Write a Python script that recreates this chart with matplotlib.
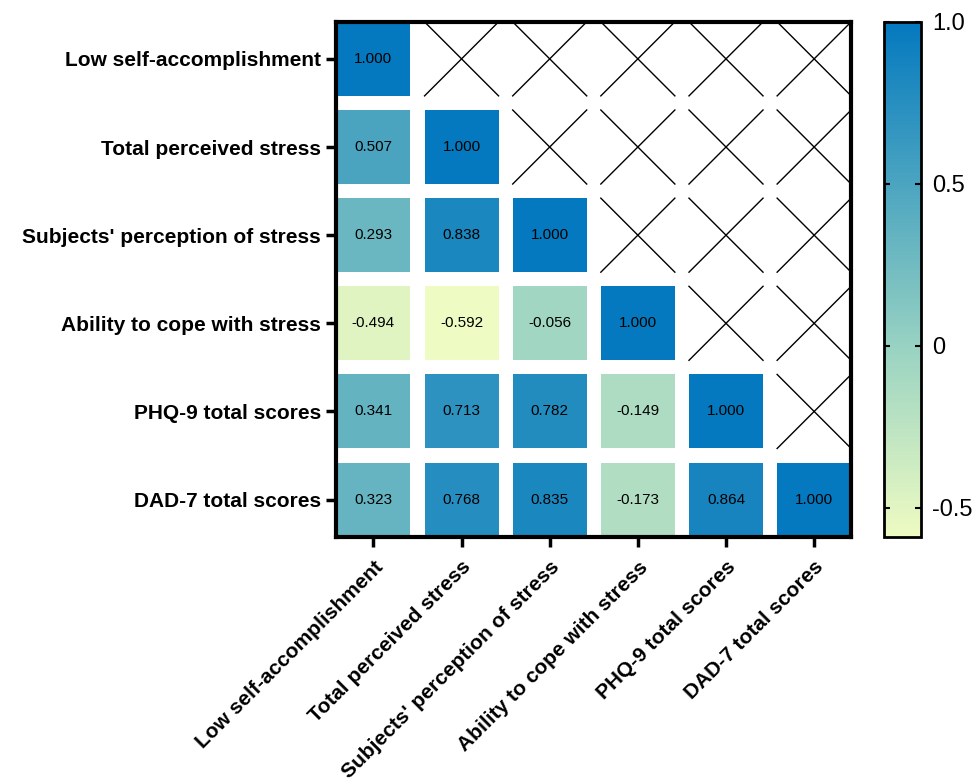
import numpy as np
import matplotlib
matplotlib.use("Agg")
import matplotlib.pyplot as plt
from matplotlib.patches import Rectangle
from matplotlib.colors import LinearSegmentedColormap, Normalize
import matplotlib.cm as cm

plt.rcParams['font.family'] = ['Liberation Sans', 'DejaVu Sans']

labels = ["Low self-accomplishment", "Total perceived stress",
          "Subjects' perception of stress", "Ability to cope with stress",
          "PHQ-9 total scores", "DAD-7 total scores"]

# lower triangle of the correlation matrix, row by row
corr_rows = [
    [1.000],
    [0.507, 1.000],
    [0.293, 0.838, 1.000],
    [-0.494, -0.592, -0.056, 1.000],
    [0.341, 0.713, 0.782, -0.149, 1.000],
    [0.323, 0.768, 0.835, -0.173, 0.864, 1.000],
]
cbar_ticks = [1.0, 0.5, 0.0, -0.5]
cbar_ticklabels = ["1.0", "0.5", "0", "-0.5"]

cmap = LinearSegmentedColormap.from_list(
    "ylgnbu_like",
    [(0.0, "#eefbc2"), (0.37, "#98d2c2"), (0.69, "#4aa4c0"), (1.0, "#0479bf")])
norm = Normalize(vmin=-0.592, vmax=1.0)

fig = plt.figure(figsize=(9.75, 7.8), dpi=100)
ax = fig.add_axes([0.345, 0.312, 0.528, 0.660])
cax = fig.add_axes([0.907, 0.311, 0.038, 0.661])

n = len(labels)
h = 0.42
for i, row in enumerate(corr_rows):
    for j, v in enumerate(row):
        ax.add_patch(Rectangle((j - h, i - h), 2 * h, 2 * h,
                               facecolor=cmap(norm(v)), edgecolor='none'))
        ax.text(j, i, f"{v:.3f}", ha='center', va='center', fontsize=11)
    for j in range(len(row), n):
        ax.plot([j - h, j + h], [i - h, i + h], color='black', lw=1)
        ax.plot([j - h, j + h], [i + h, i - h], color='black', lw=1)

ax.set_xlim(-h, n - 1 + h)
ax.set_ylim(n - 1 + h, -h)
ax.set_xticks(range(n))
ax.set_yticks(range(n))
ax.set_xticklabels(labels, rotation=45, ha='right', rotation_mode='anchor',
                   fontsize=15, fontweight='bold')
ax.set_yticklabels(labels, fontsize=15, fontweight='bold')
ax.tick_params(width=2.5, length=7, direction='out')
ax.tick_params(axis='x', pad=8)
ax.tick_params(axis='y', pad=4)
for s in ax.spines.values():
    s.set_linewidth(3)

cb = fig.colorbar(cm.ScalarMappable(norm=norm, cmap=cmap), cax=cax)
cb.set_ticks(cbar_ticks)
cb.set_ticklabels(cbar_ticklabels)
cb.outline.set_linewidth(2)
cax.tick_params(labelsize=17, direction='in', length=4, width=1.5,
                left=True, right=True, pad=8)

fig.savefig("out.png", dpi=100)
